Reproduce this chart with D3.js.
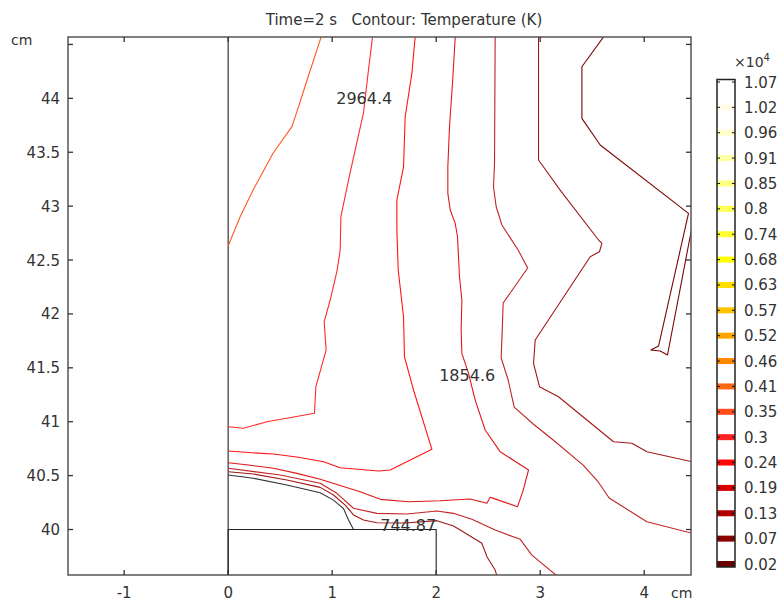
<!DOCTYPE html>
<html>
<head>
<meta charset="utf-8">
<script src="https://cdn.jsdelivr.net/npm/d3@7"></script>
<style>
  body { margin: 0; background: #fff; }
  text { font-family: "DejaVu Sans", sans-serif; fill: #333; }
</style>
</head>
<body>
<svg id="chart" width="780" height="601"></svg>
<script>
// axis ticks (cm)
const xTicks = [-1, 0, 1, 2, 3, 4];
const yTicks = [40, 40.5, 41, 41.5, 42, 42.5, 43, 43.5, 44, 44.5];
const yTickLabels = ["40", "40.5", "41", "41.5", "42", "42.5", "43", "43.5", "44", ""];

// color legend (x10^4 K), top to bottom
const legendLabels = ["1.07", "1.02", "0.96", "0.91", "0.85", "0.8", "0.74", "0.68", "0.63", "0.57",
  "0.52", "0.46", "0.41", "0.35", "0.3", "0.24", "0.19", "0.13", "0.07", "0.02"];
const legendColors = ["#ffffff", "#fffbe6", "#ffffcc", "#ffffa6", "#ffff80", "#ffff55", "#ffff30", "#ffff00", "#ffe000", "#ffc400",
  "#ffa600", "#ff8800", "#ff6a10", "#ff4d1c", "#ff2424", "#ff0505", "#d60000", "#b00000", "#8c0000", "#6a0000"];

// contour polylines [x cm, y cm]
const line035 = [[0, 42.63], [0.115, 42.902], [0.24, 43.149], [0.433, 43.493], [0.613, 43.737], [0.692, 43.968], [0.769, 44.2], [0.894, 44.57]];
const line030 = [[1.388, 44.57], [1.349, 44.263], [1.301, 43.864], [1.221, 43.52], [1.157, 43.242], [1.084, 42.902], [1.077, 42.593],
  [1.048, 42.407], [0.981, 42.129], [0.923, 41.928], [0.942, 41.665], [0.843, 41.325], [0.83, 41.078], [0.564, 41.032],
  [0.372, 41.0], [0.147, 40.939], [0, 40.954]];
const line024 = [[1.798, 44.57], [1.766, 44.232], [1.702, 43.829], [1.686, 43.365], [1.622, 43.057], [1.622, 42.778], [1.635, 42.407],
  [1.686, 41.974], [1.695, 41.603], [1.782, 41.294], [1.959, 40.744], [1.558, 40.552], [1.445, 40.543], [1.077, 40.573],
  [0.916, 40.629], [0.676, 40.67], [0.436, 40.7], [0.228, 40.712], [0, 40.728]];
const line019 = [[2.183, 44.57], [2.161, 44.2], [2.128, 43.737], [2.112, 43.365], [2.112, 43.119], [2.135, 42.964], [2.183, 42.84],
  [2.205, 42.716], [2.224, 42.345], [2.247, 42.129], [2.24, 41.851], [2.247, 41.634], [2.311, 41.449], [2.375, 41.201],
  [2.471, 40.923], [2.615, 40.722], [2.888, 40.552], [2.837, 40.366], [2.782, 40.212], [2.551, 40.289], [2.519, 40.299],
  [2.488, 40.243], [2.327, 40.283], [2.038, 40.267], [1.734, 40.258], [1.462, 40.28], [1.269, 40.351], [1.061, 40.413],
  [0.885, 40.466], [0.661, 40.521], [0.436, 40.568], [0.195, 40.598], [0, 40.62]];
const line013a = [[2.567, 44.57], [2.561, 43.397], [2.551, 43.18], [2.577, 42.994], [2.632, 42.825], [2.788, 42.593], [2.88, 42.426],
  [2.644, 42.101], [2.635, 41.851], [2.625, 41.591], [2.692, 41.387], [2.75, 41.136], [2.933, 40.979], [3.125, 40.83],
  [3.413, 40.598], [3.558, 40.441], [3.663, 40.292], [4.026, 40.072], [4.46, 39.965]];
const line013b = [[0, 40.568], [0.5, 40.506], [0.885, 40.429], [1.045, 40.336], [1.205, 40.197], [1.43, 40.15], [1.718, 40.144],
  [2.007, 40.172], [2.166, 40.15], [2.343, 40.095], [2.567, 39.995], [2.808, 39.909], [2.92, 39.763], [3.161, 39.57]];
const line007a = [[2.984, 44.57], [2.984, 43.428], [3.192, 43.149], [3.561, 42.686], [3.593, 42.655], [3.57, 42.577], [3.481, 42.531],
  [2.952, 41.758], [2.936, 41.542], [2.993, 41.325], [3.176, 41.232], [3.449, 41.016], [3.705, 40.814], [3.882, 40.8],
  [4.026, 40.722], [4.46, 40.629]];
const line007b = [[0, 40.536], [0.243, 40.515], [0.564, 40.459], [0.885, 40.391], [1.013, 40.32], [1.125, 40.227], [1.205, 40.135],
  [1.301, 40.088], [1.43, 40.063], [1.702, 40.06], [2.007, 40.082], [2.166, 40.032], [2.231, 39.995], [2.439, 39.872],
  [2.488, 39.748], [2.567, 39.624], [2.584, 39.57]];
const line002 = [[3.609, 44.57], [3.401, 44.293], [3.401, 43.814], [3.577, 43.567], [4.426, 42.933], [4.138, 41.702],
  [4.064, 41.665], [4.154, 41.656], [4.224, 41.619], [4.46, 42.809]];

const contours = [
  { color: "#ff5a24", pts: line035 },
  { color: "#ff2a2a", pts: line030 },
  { color: "#ff1414", pts: line024 },
  { color: "#e01818", pts: line019 },
  { color: "#c02424", pts: line013a },
  { color: "#c02424", pts: line013b },
  { color: "#a01818", pts: line007a },
  { color: "#a01818", pts: line007b },
  { color: "#7a0606", pts: line002 }
];

const contourLabels = [
  { text: "2964.4", x: 1.308, y: 44.0 },
  { text: "1854.6", x: 2.298, y: 41.43 },
  { text: "744.87", x: 1.731, y: 40.04 }
];

// geometry boundaries
const geomCurve = [[0, 40.506], [0.243, 40.475], [0.564, 40.413], [0.885, 40.341], [1.013, 40.273], [1.109, 40.195], [1.157, 40.088], [1.205, 40.0]];
const blockX = [0, 2];
const blockTop = 40;

const svg = d3.select("#chart");
const x = d3.scaleLinear().domain([-1.54, 4.45]).range([68, 691]);
const y = d3.scaleLinear().domain([39.578, 44.569]).range([575, 37]);

svg.append("defs").append("clipPath").attr("id", "plotclip")
  .append("rect").attr("x", 68).attr("y", 37).attr("width", 623).attr("height", 538);

// title
svg.append("text").attr("x", 404).attr("y", 25).attr("text-anchor", "middle")
  .attr("font-size", "15px").attr("xml:space", "preserve")
  .text("Time=2 s   Contour: Temperature (K)");

const plot = svg.append("g").attr("clip-path", "url(#plotclip)");
const line = d3.line().x(d => x(d[0])).y(d => y(d[1]));

// geometry
plot.append("line").attr("x1", x(0)).attr("x2", x(0)).attr("y1", y.range()[0]).attr("y2", y.range()[1])
  .attr("stroke", "#444").attr("stroke-width", 1.3);
plot.append("path")
  .attr("d", line([[blockX[0], y.domain()[0]], [blockX[0], blockTop], [blockX[1], blockTop], [blockX[1], y.domain()[0]]]))
  .attr("fill", "none").attr("stroke", "#222").attr("stroke-width", 1.1);

// contours
plot.selectAll(".contour").data(contours).enter().append("path")
  .attr("class", "contour")
  .attr("d", d => line(d.pts))
  .attr("fill", "none")
  .attr("stroke", d => d.color)
  .attr("stroke-width", 1.1)
  .attr("stroke-linejoin", "round");

plot.append("path").attr("d", line(geomCurve))
  .attr("fill", "none").attr("stroke", "#333").attr("stroke-width", 1.1);

plot.selectAll(".clabel").data(contourLabels).enter().append("text")
  .attr("class", "clabel")
  .attr("x", d => x(d.x)).attr("y", d => y(d.y) + 6)
  .attr("text-anchor", "middle").attr("font-size", "16px")
  .text(d => d.text);

// frame and ticks
const tickLen = 5;
svg.append("rect").attr("x", 68).attr("y", 37).attr("width", 623).attr("height", 538)
  .attr("fill", "none").attr("stroke", "#555").attr("stroke-width", 1.5);

const axisG = svg.append("g").attr("stroke", "#333").attr("stroke-width", 1.3);
xTicks.forEach(t => {
  axisG.append("line").attr("x1", x(t)).attr("x2", x(t)).attr("y1", 575).attr("y2", 575 - tickLen);
  axisG.append("line").attr("x1", x(t)).attr("x2", x(t)).attr("y1", 37).attr("y2", 37 + tickLen);
});
yTicks.forEach(t => {
  axisG.append("line").attr("x1", 68).attr("x2", 68 + tickLen).attr("y1", y(t)).attr("y2", y(t));
  axisG.append("line").attr("x1", 691).attr("x2", 691 - tickLen).attr("y1", y(t)).attr("y2", y(t));
});

svg.selectAll(".xlab").data(xTicks).enter().append("text")
  .attr("x", d => x(d)).attr("y", 598).attr("text-anchor", "middle").attr("font-size", "15px")
  .text(d => d);
svg.selectAll(".ylab").data(yTicks).enter().append("text")
  .attr("x", 60).attr("y", d => y(d) + 5.5).attr("text-anchor", "end").attr("font-size", "15px")
  .text((d, i) => yTickLabels[i]);

svg.append("text").attr("x", 11).attr("y", 45).attr("font-size", "14px").text("cm");
svg.append("text").attr("x", 671).attr("y", 598).attr("font-size", "14px").text("cm");

// color legend
const ly = d3.scalePoint().domain(legendLabels).range([82, 564]);
const legend = svg.append("g");
legend.append("rect").attr("x", 717).attr("y", 79.5).attr("width", 18).attr("height", 487.5)
  .attr("fill", "#fff").attr("stroke", "none");
legend.selectAll(".band").data(legendLabels).enter().append("rect")
  .attr("x", 717).attr("y", d => ly(d) - 3).attr("width", 18).attr("height", 6)
  .attr("fill", (d, i) => legendColors[i]);
legend.selectAll(".ltickl").data(legendLabels).enter().append("line")
  .attr("x1", 717).attr("x2", 720).attr("y1", d => ly(d)).attr("y2", d => ly(d))
  .attr("stroke", "#111").attr("stroke-width", 1);
legend.selectAll(".ltickr").data(legendLabels).enter().append("line")
  .attr("x1", 732).attr("x2", 735).attr("y1", d => ly(d)).attr("y2", d => ly(d))
  .attr("stroke", "#111").attr("stroke-width", 1);
legend.append("rect").attr("x", 717).attr("y", 79.5).attr("width", 18).attr("height", 487.5)
  .attr("fill", "none").attr("stroke", "#222").attr("stroke-width", 1.5);
legend.selectAll(".llab").data(legendLabels).enter().append("text")
  .attr("x", 744).attr("y", d => ly(d) + 5.5).attr("font-size", "15px")
  .text(d => d);
const exp = legend.append("text").attr("x", 734).attr("y", 67).attr("font-size", "14px");
exp.append("tspan").text("\u00d710");
exp.append("tspan").attr("dy", -6).attr("font-size", "10px").text("4");
</script>
</body>
</html>
